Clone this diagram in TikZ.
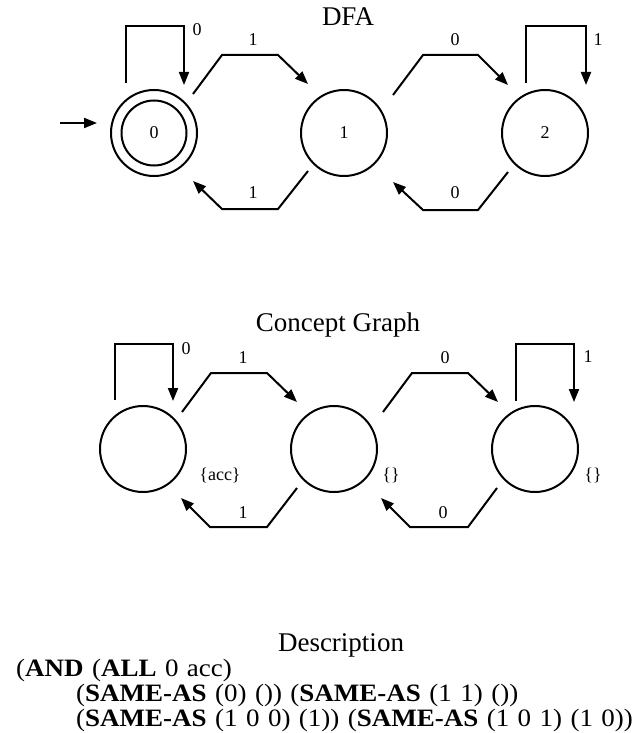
\documentclass[tikz,border=0pt]{standalone}
\usepackage{fontspec}
\setmainfont{Liberation Serif}
\newfontfamily\descfont[FakeStretch=1.08,WordSpace=1.25]{Liberation Serif}
\usetikzlibrary{arrows.meta}
\begin{document}
\begin{tikzpicture}[x=1pt,y=-1pt,
  state/.style={circle,draw,line width=2pt,minimum size=86pt,inner sep=0pt,font=\fontsize{18}{20}\selectfont},
  innerst/.style={circle,draw,line width=2pt,minimum size=65pt,inner sep=0pt,font=\fontsize{18}{20}\selectfont},
  conn/.style={line width=2pt,-{Triangle[length=13pt,width=10pt]}},
  lab/.style={font=\fontsize{18}{20}\selectfont,inner sep=0pt},
  setlab/.style={font=\fontsize{18}{20}\selectfont,inner sep=0pt},
  bigtxt/.style={font=\fontsize{27}{30}\selectfont,inner sep=0pt},
  desc/.style={font=\descfont\fontsize{25}{27}\selectfont,inner sep=0pt,anchor=west}]
\useasboundingbox (0,0) rectangle (639,733);
% ---------------- DFA ----------------
\node[bigtxt] (tdfa) at (348,17) {DFA};
\node[state] (q0) at (154,133) {};
\node[innerst] (q0in) at (154,133) {0};
\node[state] (q1) at (344,133) {1};
\node[state] (q2) at (545,133) {2};
\coordinate (init) at (60,123);
\draw[conn] (init) -- ([shift={(-57,-10)}]q0.center);
\draw[conn] ([shift={(-28,-50)}]q0.center) -- (126,26) -- (184,26) -- ([shift={(30,-48)}]q0.center);
\draw[conn] ([shift={(39,-39)}]q0.center) -- (222,55) -- (278,55) -- ([shift={(-36,-49)}]q1.center);
\draw[conn] ([shift={(-36,38)}]q1.center) -- (278,209) -- (222,209) -- ([shift={(39,48)}]q0.center);
\draw[conn] ([shift={(49,-38)}]q1.center) -- (423,55) -- (478,55) -- ([shift={(-37,-48)}]q2.center);
\draw[conn] ([shift={(-37,39)}]q2.center) -- (478,210) -- (423,210) -- ([shift={(49,49)}]q1.center);
\draw[conn] ([shift={(-19,-50)}]q2.center) -- (526,26) -- (586,26) -- ([shift={(41,-48)}]q2.center);
\node[lab] (l00) at (197,30) {0};
\node[lab] (l01) at (253,40) {1};
\node[lab] (l10) at (253,193) {1};
\node[lab] (l12) at (455,40) {0};
\node[lab] (l21) at (455,193) {0};
\node[lab] (l22) at (598,40) {1};
% ---------------- Concept Graph ----------------
\node[bigtxt] (tcg) at (338,325) {Concept Graph};
\node[state] (ca) at (143,449) {};
\node[state] (cb) at (334,449) {};
\node[state] (cc) at (535,449) {};
\draw[conn] ([shift={(-28,-49)}]ca.center) -- (115,344) -- (173,344) -- ([shift={(30,-48)}]ca.center);
\draw[conn] ([shift={(39,-37)}]ca.center) -- (211,373) -- (267,373) -- ([shift={(-37,-47)}]cb.center);
\draw[conn] ([shift={(-37,39)}]cb.center) -- (267,527) -- (210,527) -- ([shift={(38,49)}]ca.center);
\draw[conn] ([shift={(49,-37)}]cb.center) -- (412,373) -- (468,373) -- ([shift={(-37,-47)}]cc.center);
\draw[conn] ([shift={(-38,39)}]cc.center) -- (468,527) -- (410,527) -- ([shift={(47,49)}]cb.center);
\draw[conn] ([shift={(-19,-48)}]cc.center) -- (516,344) -- (574,344) -- ([shift={(39,-47)}]cc.center);
\node[lab] (m00) at (186,349) {0};
\node[lab] (m01) at (243,358) {1};
\node[lab] (m10) at (243,513) {1};
\node[lab] (m12) at (445,358) {0};
\node[lab] (m21) at (443,513) {0};
\node[lab] (m22) at (588,357) {1};
\node[setlab] (sa) at (220,475) {\{acc\}};
\node[setlab] (sb) at (391,475) {\{\}};
\node[setlab] (sc) at (593,475) {\{\}};
% ---------------- Description ----------------
\node[bigtxt] (tdesc) at (341,645) {Description};
\node[desc] (d1) at (16,670) {(\textbf{AND} (\textbf{ALL} 0 acc)};
\node[desc] (d2) at (76,695) {(\textbf{SAME-AS} (0) ()) (\textbf{SAME-AS} (1 1) ())};
\node[desc] (d3) at (76,720) {(\textbf{SAME-AS} (1 0 0) (1)) (\textbf{SAME-AS} (1 0 1) (1 0))};
\end{tikzpicture}
\end{document}
